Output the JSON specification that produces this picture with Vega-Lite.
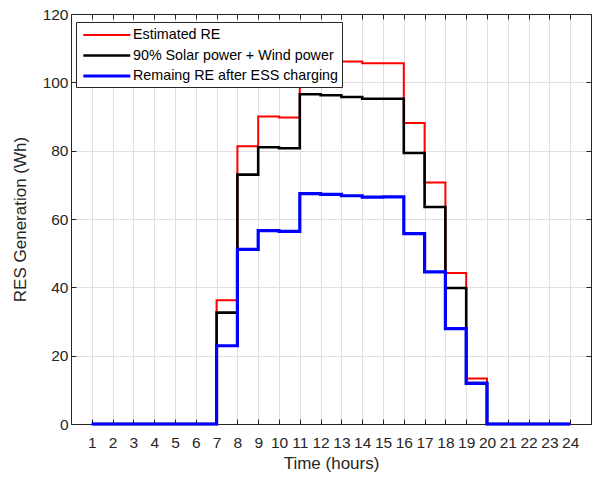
{
  "$schema": "https://vega.github.io/schema/vega-lite/v6.json",
  "autosize": "none",
  "width": 520,
  "height": 410,
  "padding": {"left": 71, "top": 14, "right": 5, "bottom": 53},
  "background": "white",
  "config": {
    "view": {"stroke": "#262626", "strokeWidth": 1},
    "font": "Liberation Sans",
    "axis": {
      "labelFont": "Liberation Sans",
      "titleFont": "Liberation Sans",
      "labelFontSize": 15.5,
      "titleFontSize": 17,
      "labelColor": "#262626",
      "titleColor": "#262626",
      "titleFontWeight": "normal",
      "domainColor": "#262626",
      "tickColor": "#262626",
      "gridColor": "#dfdfdf",
      "gridWidth": 1,
      "tickSize": -5
    }
  },
  "data": {
    "values": [
      {"series": "Estimated RE", "hour": 1, "value": 0},
      {"series": "Estimated RE", "hour": 2, "value": 0},
      {"series": "Estimated RE", "hour": 3, "value": 0},
      {"series": "Estimated RE", "hour": 4, "value": 0},
      {"series": "Estimated RE", "hour": 5, "value": 0},
      {"series": "Estimated RE", "hour": 6, "value": 0},
      {"series": "Estimated RE", "hour": 7, "value": 36.2},
      {"series": "Estimated RE", "hour": 8, "value": 81.3},
      {"series": "Estimated RE", "hour": 9, "value": 90.0},
      {"series": "Estimated RE", "hour": 10, "value": 89.7},
      {"series": "Estimated RE", "hour": 11, "value": 106.9},
      {"series": "Estimated RE", "hour": 12, "value": 106.5},
      {"series": "Estimated RE", "hour": 13, "value": 106.1},
      {"series": "Estimated RE", "hour": 14, "value": 105.6},
      {"series": "Estimated RE", "hour": 15, "value": 105.6},
      {"series": "Estimated RE", "hour": 16, "value": 88.1},
      {"series": "Estimated RE", "hour": 17, "value": 70.7},
      {"series": "Estimated RE", "hour": 18, "value": 44.2},
      {"series": "Estimated RE", "hour": 19, "value": 13.3},
      {"series": "Estimated RE", "hour": 20, "value": 0},
      {"series": "Estimated RE", "hour": 21, "value": 0},
      {"series": "Estimated RE", "hour": 22, "value": 0},
      {"series": "Estimated RE", "hour": 23, "value": 0},
      {"series": "Estimated RE", "hour": 24, "value": 0},
      {"series": "90% Solar power + Wind power", "hour": 1, "value": 0},
      {"series": "90% Solar power + Wind power", "hour": 2, "value": 0},
      {"series": "90% Solar power + Wind power", "hour": 3, "value": 0},
      {"series": "90% Solar power + Wind power", "hour": 4, "value": 0},
      {"series": "90% Solar power + Wind power", "hour": 5, "value": 0},
      {"series": "90% Solar power + Wind power", "hour": 6, "value": 0},
      {"series": "90% Solar power + Wind power", "hour": 7, "value": 32.6},
      {"series": "90% Solar power + Wind power", "hour": 8, "value": 73.0},
      {"series": "90% Solar power + Wind power", "hour": 9, "value": 81.0},
      {"series": "90% Solar power + Wind power", "hour": 10, "value": 80.7},
      {"series": "90% Solar power + Wind power", "hour": 11, "value": 96.5},
      {"series": "90% Solar power + Wind power", "hour": 12, "value": 96.2},
      {"series": "90% Solar power + Wind power", "hour": 13, "value": 95.7},
      {"series": "90% Solar power + Wind power", "hour": 14, "value": 95.2},
      {"series": "90% Solar power + Wind power", "hour": 15, "value": 95.2},
      {"series": "90% Solar power + Wind power", "hour": 16, "value": 79.3},
      {"series": "90% Solar power + Wind power", "hour": 17, "value": 63.5},
      {"series": "90% Solar power + Wind power", "hour": 18, "value": 39.8},
      {"series": "90% Solar power + Wind power", "hour": 19, "value": 12.0},
      {"series": "90% Solar power + Wind power", "hour": 20, "value": 0},
      {"series": "90% Solar power + Wind power", "hour": 21, "value": 0},
      {"series": "90% Solar power + Wind power", "hour": 22, "value": 0},
      {"series": "90% Solar power + Wind power", "hour": 23, "value": 0},
      {"series": "90% Solar power + Wind power", "hour": 24, "value": 0},
      {"series": "Remaing RE after ESS charging", "hour": 1, "value": 0},
      {"series": "Remaing RE after ESS charging", "hour": 2, "value": 0},
      {"series": "Remaing RE after ESS charging", "hour": 3, "value": 0},
      {"series": "Remaing RE after ESS charging", "hour": 4, "value": 0},
      {"series": "Remaing RE after ESS charging", "hour": 5, "value": 0},
      {"series": "Remaing RE after ESS charging", "hour": 6, "value": 0},
      {"series": "Remaing RE after ESS charging", "hour": 7, "value": 22.9},
      {"series": "Remaing RE after ESS charging", "hour": 8, "value": 51.1},
      {"series": "Remaing RE after ESS charging", "hour": 9, "value": 56.6},
      {"series": "Remaing RE after ESS charging", "hour": 10, "value": 56.4},
      {"series": "Remaing RE after ESS charging", "hour": 11, "value": 67.4},
      {"series": "Remaing RE after ESS charging", "hour": 12, "value": 67.2},
      {"series": "Remaing RE after ESS charging", "hour": 13, "value": 66.8},
      {"series": "Remaing RE after ESS charging", "hour": 14, "value": 66.4},
      {"series": "Remaing RE after ESS charging", "hour": 15, "value": 66.5},
      {"series": "Remaing RE after ESS charging", "hour": 16, "value": 55.7},
      {"series": "Remaing RE after ESS charging", "hour": 17, "value": 44.5},
      {"series": "Remaing RE after ESS charging", "hour": 18, "value": 27.9},
      {"series": "Remaing RE after ESS charging", "hour": 19, "value": 11.9},
      {"series": "Remaing RE after ESS charging", "hour": 20, "value": 0},
      {"series": "Remaing RE after ESS charging", "hour": 21, "value": 0},
      {"series": "Remaing RE after ESS charging", "hour": 22, "value": 0},
      {"series": "Remaing RE after ESS charging", "hour": 23, "value": 0},
      {"series": "Remaing RE after ESS charging", "hour": 24, "value": 0}
    ]
  },
  "encoding": {
    "color": {
      "field": "series",
      "type": "nominal",
      "scale": {
        "domain": ["Estimated RE", "90% Solar power + Wind power", "Remaing RE after ESS charging"],
        "range": ["#ff0000", "#000000", "#0000ff"]
      },
      "legend": {
        "title": null,
        "orient": "none",
        "legendX": 5,
        "legendY": 8,
        "symbolType": "M-0.74,0H4.48",
        "symbolSize": 324,
        "symbolStrokeWidth": 3,
        "labelFont": "Liberation Sans",
        "labelFontSize": 14.3,
        "labelColor": "#000000",
        "labelOffset": 32,
        "labelExpr": "datum.label + '\u00a0\u00a0'",
        "rowPadding": 2,
        "padding": 3,
        "strokeColor": "#262626",
        "fillColor": "white",
        "labelLimit": 400
      }
    },
    "strokeWidth": {
      "field": "series",
      "type": "nominal",
      "scale": {
        "domain": ["Estimated RE", "90% Solar power + Wind power", "Remaing RE after ESS charging"],
        "range": [2, 3.2, 3.2]
      }
    }
  },
  "layer": [
    {
      "transform": [{"filter": "datum.series === 'Estimated RE'"}],
      "mark": {"type": "line", "interpolate": "step-after"},
      "encoding": {
        "x": {
          "field": "hour", "type": "quantitative",
          "scale": {"domain": [0, 25], "nice": false, "zero": false},
          "axis": {
            "title": "Time (hours)",
            "values": [1,2,3,4,5,6,7,8,9,10,11,12,13,14,15,16,17,18,19,20,21,22,23,24],
            "labelPadding": 16,
            "titlePadding": 5,
            "grid": true,
            "labelFlush": false,
            "labelOverlap": false
          }
        },
        "y": {
          "field": "value", "type": "quantitative",
          "scale": {"domain": [0, 120], "nice": false},
          "axis": {
            "title": "RES Generation (Wh)",
            "values": [0, 20, 40, 60, 80, 100, 120],
            "labelPadding": 8,
            "titlePadding": 13,
            "grid": true,
            "labelFlush": false
          }
        }
      }
    },
    {
      "transform": [{"filter": "datum.series === '90% Solar power + Wind power'"}],
      "mark": {"type": "line", "interpolate": "step-after"},
      "encoding": {
        "x": {
          "field": "hour", "type": "quantitative",
          "scale": {"domain": [0, 25], "nice": false, "zero": false},
          "axis": {
            "orient": "top", "title": null, "labels": false, "grid": false,
            "values": [1,2,3,4,5,6,7,8,9,10,11,12,13,14,15,16,17,18,19,20,21,22,23,24]
          }
        },
        "y": {
          "field": "value", "type": "quantitative",
          "scale": {"domain": [0, 120], "nice": false},
          "axis": {
            "orient": "right", "title": null, "labels": false, "grid": false,
            "values": [0, 20, 40, 60, 80, 100, 120]
          }
        }
      }
    },
    {
      "transform": [{"filter": "datum.series === 'Remaing RE after ESS charging'"}],
      "mark": {"type": "line", "interpolate": "step-after"},
      "encoding": {
        "x": {"field": "hour", "type": "quantitative", "scale": {"domain": [0, 25], "nice": false, "zero": false}, "axis": null},
        "y": {"field": "value", "type": "quantitative", "scale": {"domain": [0, 120], "nice": false}, "axis": null}
      }
    }
  ],
  "resolve": {"axis": {"x": "independent", "y": "independent"}}
}
